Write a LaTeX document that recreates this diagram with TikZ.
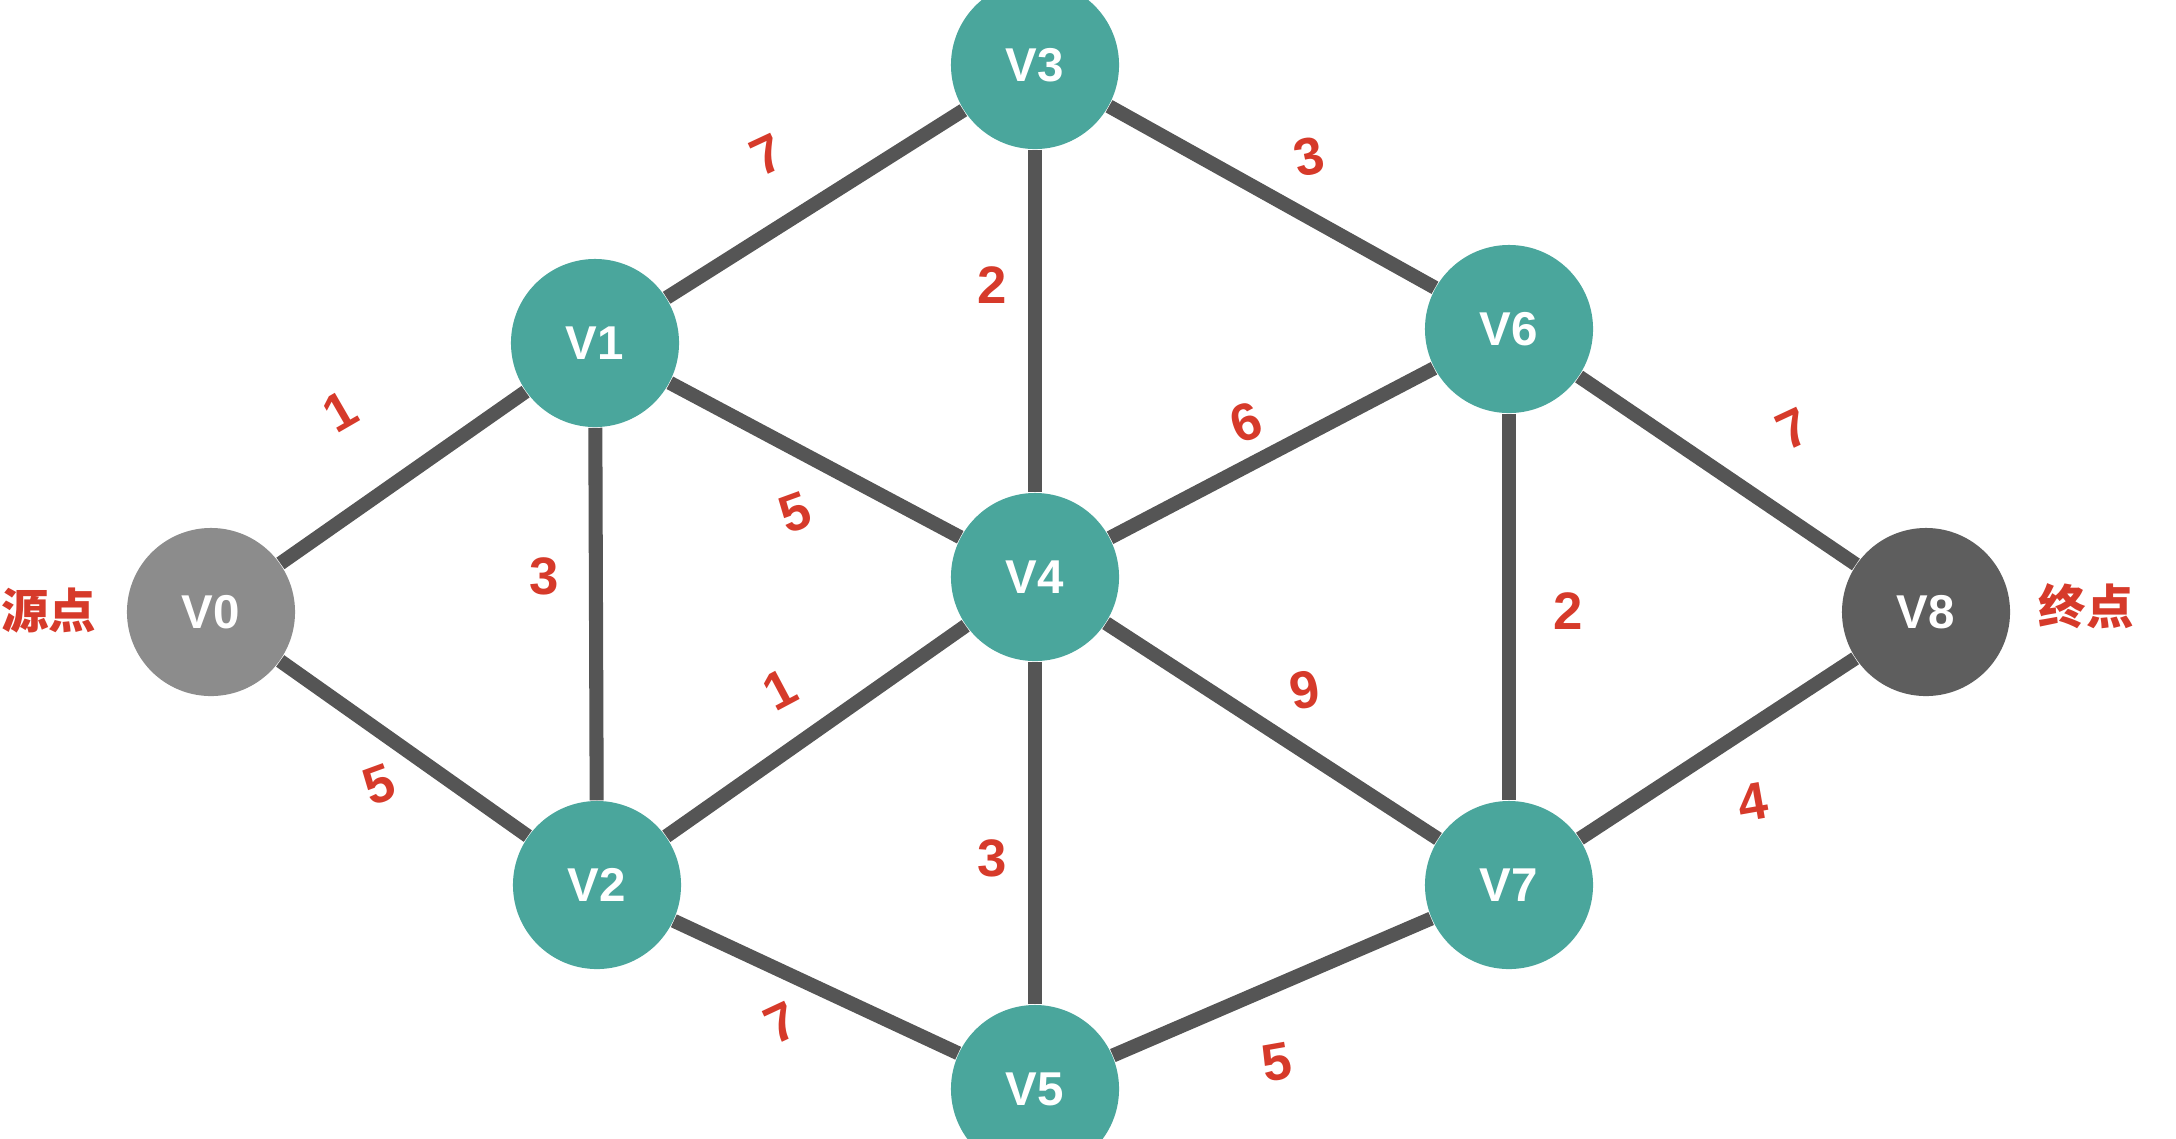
\documentclass[tikz,border=0pt]{standalone}
\usepackage{fontspec}
\setmainfont{Liberation Sans}
\newfontfamily\cjk{Noto Sans CJK SC}
\definecolor{teal}{HTML}{4AA69C}
\definecolor{edgegray}{HTML}{555555}
\definecolor{labred}{HTML}{D63A2A}

\begin{document}
\begin{tikzpicture}[
  x=0.01cm, y=-0.01cm,
  vert/.style={circle,minimum size=1.68cm,inner sep=0pt,fill=teal,
    text=white,font=\fontsize{13.5}{15}\selectfont\bfseries},
  source/.style={vert,fill=black!45},
  sink/.style={vert,fill=black!63},
  link/.style={draw=edgegray,line width=4pt},
  weight/.style={text=labred,font=\fontsize{15}{17}\selectfont\bfseries},
  tag/.style={text=labred,font=\cjk\fontsize{13.5}{15}\selectfont\bfseries}
]
  \useasboundingbox (0,0) rectangle (2176,1138);

  % vertices
  \node[source] (v0) at (211,612) {V0};
  \node[vert] (v1) at (595,343) {V1};
  \node[vert] (v2) at (597,885) {V2};
  \node[vert] (v3) at (1035,65) {V3};
  \node[vert] (v4) at (1035,577) {V4};
  \node[vert] (v5) at (1035,1089) {V5};
  \node[vert] (v6) at (1509,329) {V6};
  \node[vert] (v7) at (1509,885) {V7};
  \node[sink] (v8) at (1926,612) {V8};

  \node[tag] (src) at (49,611) {源点};
  \node[tag] (dst) at (2086,606) {终点};

  % edges
  \draw[link] (v0) -- (v1);
  \draw[link] (v0) -- (v2);
  \draw[link] (v1) -- (v3);
  \draw[link] (v1) -- (v2);
  \draw[link] (v1) -- (v4);
  \draw[link] (v3) -- (v4);
  \draw[link] (v3) -- (v6);
  \draw[link] (v2) -- (v4);
  \draw[link] (v2) -- (v5);
  \draw[link] (v4) -- (v6);
  \draw[link] (v4) -- (v5);
  \draw[link] (v4) -- (v7);
  \draw[link] (v6) -- (v7);
  \draw[link] (v6) -- (v8);
  \draw[link] (v5) -- (v7);
  \draw[link] (v7) -- (v8);

  % weights
  \node[weight,rotate=30] (w01) at (340,411) {1};
  \node[weight,rotate=20] (w02) at (379,785) {5};
  \node[weight,rotate=25] (w13) at (767,155) {7};
  \node[weight] (w12) at (544,576) {3};
  \node[weight,rotate=20] (w14) at (795,513) {5};
  \node[weight] (w34) at (992,285) {2};
  \node[weight,rotate=12] (w36) at (1309,157) {3};
  \node[weight,rotate=28] (w24) at (780,690) {1};
  \node[weight,rotate=20] (w46) at (1246,422) {6};
  \node[weight,rotate=25] (w68) at (1793,429) {7};
  \node[weight] (w67) at (1568,611) {2};
  \node[weight,rotate=10] (w47) at (1305,690) {9};
  \node[weight] (w45) at (992,858) {3};
  \node[weight,rotate=25] (w25) at (781,1023) {7};
  \node[weight,rotate=10] (w57) at (1277,1062) {5};
  \node[weight,rotate=10] (w78) at (1753,802) {4};
\end{tikzpicture}
\end{document}
